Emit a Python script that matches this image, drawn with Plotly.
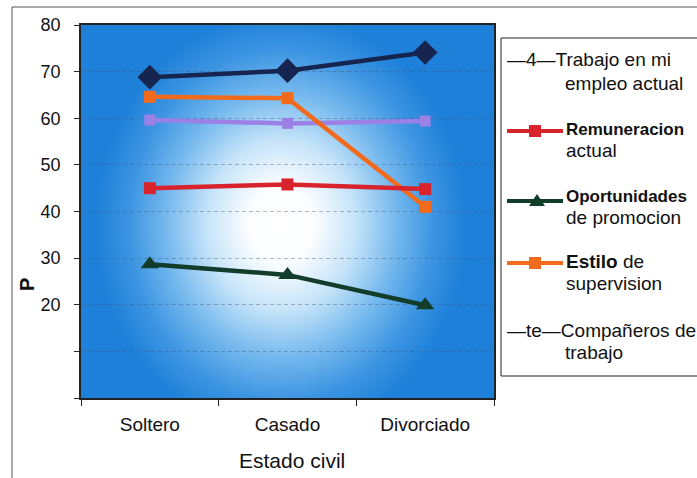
import base64
import plotly.graph_objects as go

# ---- data -------------------------------------------------------------
estado_civil = ["Soltero", "Casado", "Divorciado"]
trabajo_empleo = [68.8, 70.2, 74.1]
remuneracion = [45.0, 45.8, 44.8]
oportunidades = [28.7, 26.4, 19.9]
estilo_supervision = [64.6, 64.3, 41.0]
companeros = [59.6, 58.9, 59.4]

y_tickvals = [0, 10, 20, 30, 40, 50, 60, 70, 80]
y_ticktext = ["", "", "20", "30", "40", "50", "60", "70", "80"]

# ---- geometry (pixels) --------------------------------------------------
W, H = 697, 478
L, R, T, B = 81, 203, 25, 80
PW, PH = W - L - R, H - T - B


def px(x):
    return (x - L) / PW


def py(y):
    return 1 - (y - T) / PH


FONT = "Liberation Sans, Arial, sans-serif"
NAVY = "#16254f"
RED = "#d8232c"
GREEN = "#123d2a"
ORANGE = "#f26a1b"
PURPLE = "#9b80e6"

fig = go.Figure()

series = [
    (trabajo_empleo, NAVY, "diamond", 19),
    (companeros, PURPLE, "square", 11),
    (estilo_supervision, ORANGE, "square", 12),
    (remuneracion, RED, "square", 12),
    (oportunidades, GREEN, "triangle-up", 16),
]
for vals, col, sym, size in series:
    fig.add_trace(go.Scatter(
        x=estado_civil, y=vals, mode="lines+markers",
        line=dict(color=col, width=4.5),
        marker=dict(symbol=sym, size=size, color=col, line=dict(width=0)),
        showlegend=False, hoverinfo="x+y",
    ))

# soft white glow in the middle of the plot area (taller than wide)
gcx, gcy = 200, 200
svg = f'''<svg xmlns="http://www.w3.org/2000/svg" width="{PW}" height="{PH}" viewBox="0 0 {PW} {PH}" preserveAspectRatio="none">
<defs><radialGradient id="g" gradientUnits="userSpaceOnUse" cx="{gcx}" cy="{gcy}" r="185"
 gradientTransform="translate({gcx} {gcy}) scale(1 1.15) translate({-gcx} {-gcy})">
<stop offset="0" stop-color="#ffffff"/>
<stop offset="0.18" stop-color="#fbfdff"/>
<stop offset="0.4" stop-color="#c6e4f9"/>
<stop offset="0.62" stop-color="#76b9ee"/>
<stop offset="0.82" stop-color="#3d95e2"/>
<stop offset="1" stop-color="#1e80d9"/>
</radialGradient></defs>
<rect width="{PW}" height="{PH}" fill="#1e80d9"/>
<rect width="{PW}" height="{PH}" fill="url(#g)"/></svg>'''
src = "data:image/svg+xml;base64," + base64.b64encode(svg.encode()).decode()
fig.add_layout_image(dict(source=src, xref="paper", yref="paper", x=0, y=1,
                          sizex=1, sizey=1, sizing="stretch", layer="below",
                          xanchor="left", yanchor="top"))

shapes = []
# outer chart frame
shapes.append(dict(type="rect", xref="paper", yref="paper",
                   x0=px(12), x1=px(W + 10), y0=py(H + 10), y1=py(7),
                   line=dict(color="#555", width=1), fillcolor="rgba(0,0,0,0)"))
# legend frame
shapes.append(dict(type="rect", xref="paper", yref="paper",
                   x0=px(501), x1=px(W + 10), y0=py(376), y1=py(38),
                   line=dict(color="#222", width=1), fillcolor="white"))


def legend_line(y, col):
    shapes.append(dict(type="line", xref="paper", yref="paper",
                       x0=px(507), x1=px(563), y0=py(y), y1=py(y),
                       line=dict(color=col, width=4)))


legend_line(131, RED)
shapes.append(dict(type="rect", xref="paper", yref="paper",
                   x0=px(529), x1=px(541), y0=py(137), y1=py(125),
                   fillcolor=RED, line=dict(width=0)))
legend_line(201, GREEN)
shapes.append(dict(type="path", xref="paper", yref="paper",
                   path=f"M {px(529)} {py(206)} L {px(545)} {py(206)} L {px(537)} {py(194)} Z",
                   fillcolor=GREEN, line=dict(width=0)))
legend_line(263, ORANGE)
shapes.append(dict(type="rect", xref="paper", yref="paper",
                   x0=px(529), x1=px(541), y0=py(269), y1=py(257),
                   fillcolor=ORANGE, line=dict(width=0)))

annotations = []


def label(x, y, text, size=19, anchor="left", angle=0):
    annotations.append(dict(xref="paper", yref="paper", x=px(x), y=py(y),
                            text=text, showarrow=False, xanchor=anchor,
                            yanchor="middle", textangle=angle,
                            font=dict(family=FONT, size=size, color="#111")))


label(505, 60, "—4—Trabajo en mi")
label(563, 83, "empleo actual")
label(564, 129, "<b>Remuneracion</b>", size=17)
label(564, 150, "actual")
label(564, 196, "<b>Oportunidades</b>", size=17)
label(564, 217, "de promocion")
label(564, 261, "<b>Estilo</b> de")
label(564, 283, "supervision")
label(505, 330, "—te—Compañeros de")
label(563, 352, "trabajo")

# axis titles
label(292, 461, "Estado civil", size=21, anchor="center")
label(27, 285, "<b>P</b>", size=20, anchor="center", angle=-90)

fig.update_layout(
    width=W, height=H,
    margin=dict(l=L, r=R, t=T, b=B, pad=0),
    paper_bgcolor="white", plot_bgcolor="#1e80d9",
    shapes=shapes, annotations=annotations,
    font=dict(family=FONT, color="#111"),
    xaxis=dict(
        type="category", range=[-0.5, 2.5],
        showline=True, mirror=True, linecolor="#222", linewidth=1.5,
        ticks="outside", tickson="boundaries", ticklen=6, tickcolor="#222",
        showgrid=False, tickfont=dict(family=FONT, size=19, color="#111"),
        ticklabelstandoff=8,
    ),
    yaxis=dict(
        range=[0, 80], tickvals=y_tickvals, ticktext=y_ticktext,
        showline=True, mirror=True, linecolor="#222", linewidth=1.5,
        ticks="outside", ticklen=5, tickcolor="#222",
        showgrid=True, gridcolor="rgba(70,80,110,0.4)", griddash="4px,3px",
        gridwidth=1, zeroline=False,
        tickfont=dict(family=FONT, size=18, color="#111"),
        ticklabelstandoff=10,
    ),
)

fig.write_html("out.html")
